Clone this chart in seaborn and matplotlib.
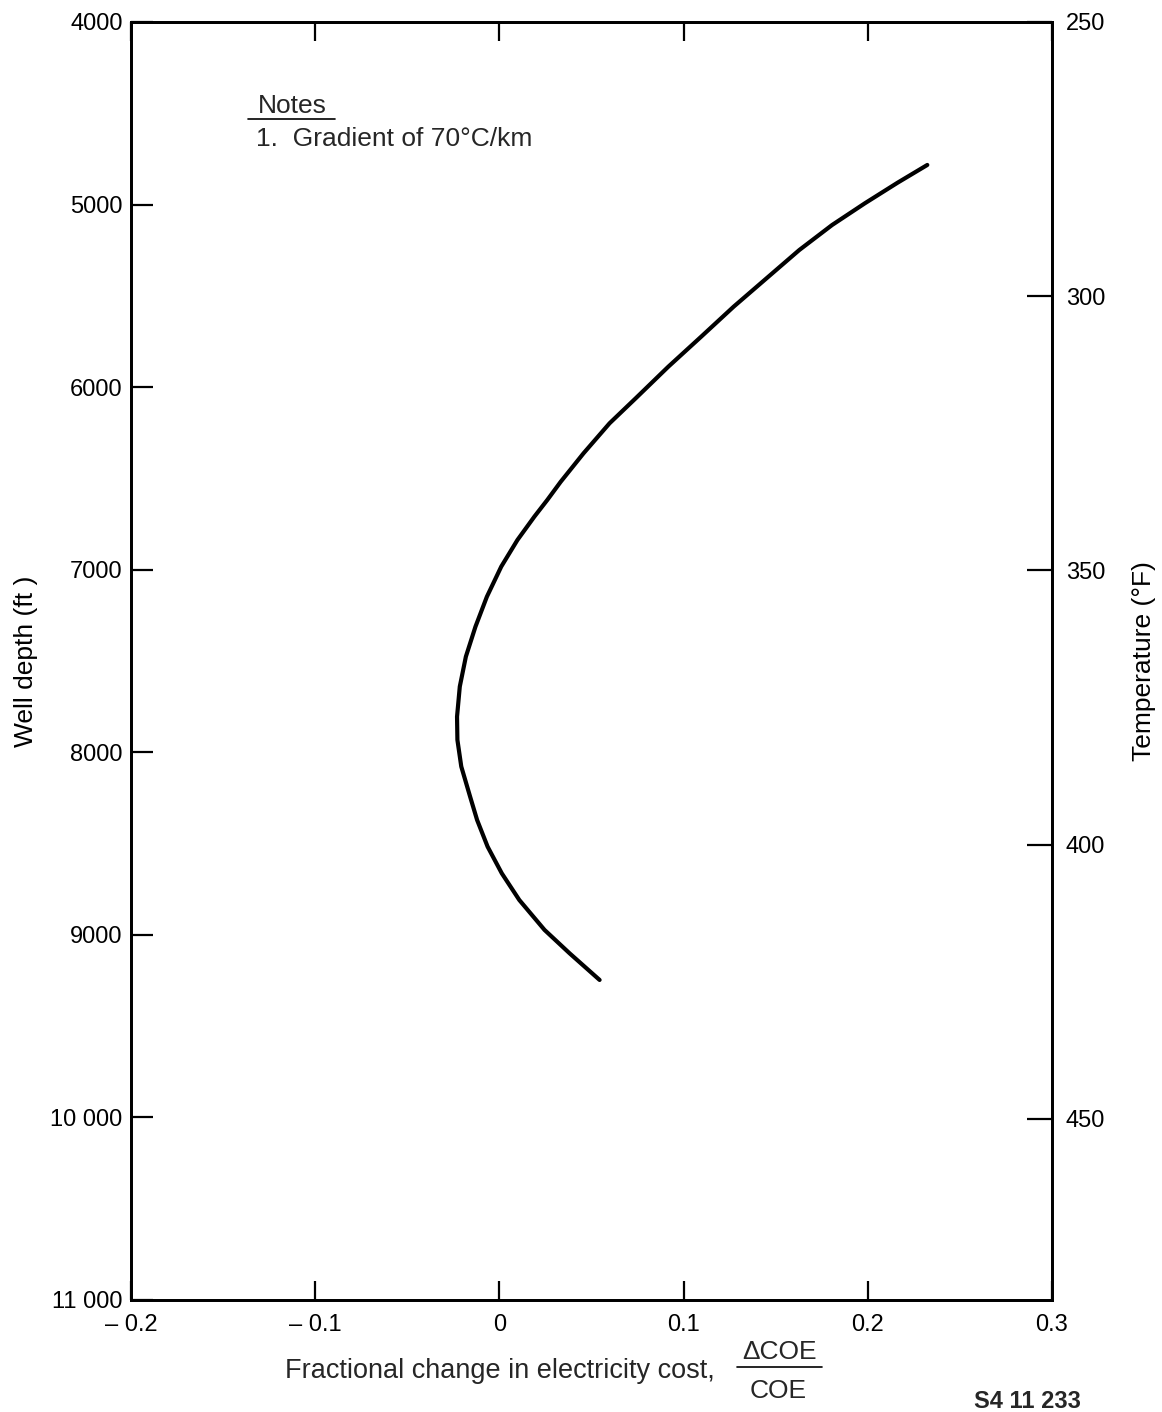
import matplotlib
matplotlib.use("Agg")
import matplotlib.pyplot as plt
import seaborn as sns
import pandas as pd
from matplotlib.lines import Line2D

# ---- data ----
cost_change = [0.2323, 0.2162, 0.1984, 0.1806, 0.1628, 0.1450, 0.1272, 0.1095,
               0.0917, 0.0740, 0.0598, 0.0457, 0.0333, 0.0260, 0.0190, 0.0098,
               0.0010, -0.0068, -0.0130, -0.0182, -0.0215, -0.0230, -0.0228,
               -0.0207, -0.0159, -0.0121, -0.0064, 0.0013, 0.0108, 0.0245,
               0.0381, 0.0544]
well_depth = [4783, 4880, 4993, 5112, 5249, 5404, 5559, 5724,
              5888, 6061, 6198, 6362, 6518, 6618, 6709, 6837,
              6983, 7148, 7312, 7476, 7640, 7805, 7932,
              8078, 8243, 8371, 8517, 8663, 8809, 8973,
              9101, 9247]

x_ticks = [-0.2, -0.1, 0.0, 0.1, 0.2, 0.3]
x_tick_labels = ["\u2013 0.2", "\u2013 0.1", "0", "0.1", "0.2", "0.3"]
depth_ticks = [4000, 5000, 6000, 7000, 8000, 9000, 10000, 11000]
depth_tick_labels = ["4000", "5000", "6000", "7000", "8000", "9000", "10 000", "11 000"]
temp_ticks = [250, 300, 350, 400, 450]
temp_tick_labels = ["250", "300", "350", "400", "450"]

df = pd.DataFrame({"cost": cost_change, "depth": well_depth})

sns.set_theme(style="white")
plt.rcParams["font.family"] = ["Liberation Sans", "DejaVu Sans"]

W, H = 1162, 1412
fig = plt.figure(figsize=(W / 100, H / 100), dpi=100)
L, R, T, B = 131, 1052, 22, 1300
ax = fig.add_axes([L / W, (H - B) / H, (R - L) / W, (B - T) / H])

sns.lineplot(data=df, x="cost", y="depth", sort=False, estimator=None,
             color="black", linewidth=3.0, ax=ax)
for ln in ax.lines:
    ln.set_solid_joinstyle("round")
    ln.set_solid_capstyle("round")

ax.set_xlim(-0.2, 0.3)
ax.set_ylim(11000, 4000)
ax.set_xticks(x_ticks)
ax.set_xticklabels(x_tick_labels)
ax.set_yticks(depth_ticks)
ax.set_yticklabels(depth_tick_labels)
ax.set_xlabel("")
ax.set_ylabel("Well depth (ft )", fontsize=19, color="black")
ax.yaxis.set_label_coords(-0.101, 0.5)

for s in ax.spines.values():
    s.set_visible(True)
    s.set_color("black")
    s.set_linewidth(2.0)

ax.tick_params(axis="x", which="both", direction="in", length=14, width=1.6,
               top=True, bottom=True, labeltop=False, labelsize=17,
               colors="black", pad=10)
ax.tick_params(axis="y", which="both", direction="in", length=16, width=1.6,
               left=True, right=False, labelsize=17, colors="black", pad=6)

ax2 = ax.twinx()
ax2.set_ylim(483, 250)
ax2.set_yticks(temp_ticks)
ax2.set_yticklabels(temp_tick_labels)
ax2.tick_params(axis="y", direction="in", length=18, width=1.6, labelsize=17,
                colors="black", pad=10)
ax2.set_ylabel("Temperature (\u00b0F)", fontsize=19, color="black", rotation=90)
ax2.yaxis.set_label_coords(1.087, 0.5)
for s in ax2.spines.values():
    s.set_color("black")
    s.set_linewidth(2.0)
ax2.grid(False)
ax.grid(False)

# Notes
fig.text(258 / W, 1 - 106 / H, "Notes", fontsize=19, va="center", ha="left")
fig.add_artist(Line2D([248 / W, 335 / W], [1 - 119 / H, 1 - 119 / H],
                      color="black", linewidth=1.2))
fig.text(256 / W, 1 - 139 / H, "1.  Gradient of 70\u00b0C/km", fontsize=19,
         va="center", ha="left")

# x-axis label with fraction
fig.text(715 / W, 1 - 1371 / H, "Fractional change in electricity cost,",
         fontsize=19.5, va="center", ha="right")
fig.text(780 / W, 1 - 1352 / H, "\u0394COE", fontsize=19, va="center", ha="center")
fig.add_artist(Line2D([737 / W, 822 / W], [1 - 1367 / H, 1 - 1367 / H],
                      color="black", linewidth=1.2))
fig.text(778 / W, 1 - 1391 / H, "COE", fontsize=19, va="center", ha="center")

fig.text(1027 / W, 1 - 1402 / H, "S4 11 233", fontsize=17, fontweight="bold",
         va="center", ha="center")

fig.savefig("out.png", dpi=100, facecolor="white")
